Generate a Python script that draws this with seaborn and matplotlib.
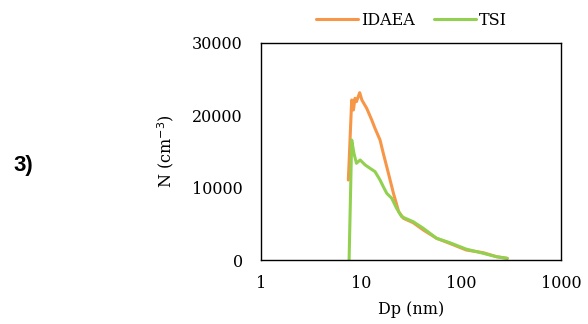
import numpy as np
import pandas as pd
import matplotlib
matplotlib.use("Agg")
import matplotlib.pyplot as plt
import seaborn as sns

# IDAEA series (Dp in nm, N in cm^-3)
idaea_dp = [7.47, 8.07, 8.4, 8.7, 9.0, 9.7, 10.2, 11.4, 12.8, 13.8, 15.5, 16.7,
            18.8, 21.1, 23.8, 26.6, 33.2, 42, 57, 77, 113, 167, 226, 290]
idaea_n = [11060, 22120, 20740, 22350, 21890, 23130, 22120, 20970, 19360, 18200,
           16590, 14750, 11980, 9220, 6680, 5760, 5160, 4150, 3000, 2300, 1380,
           1010, 460, 230]

# TSI series
tsi_dp = [7.6, 8.07, 8.5, 9.0, 9.8, 11.0, 12.3, 13.8, 15.5, 16.7, 18.1, 20.3,
          22.7, 25.5, 33.2, 42, 57, 77, 113, 144, 226, 290]
tsi_n = [0, 16590, 14750, 13370, 13830, 13140, 12680, 12220, 11060, 10140, 9220,
         8530, 7150, 5990, 5300, 4380, 3000, 2400, 1500, 1150, 460, 230]

x_ticks = [1, 10, 100, 1000]
x_tick_labels = ["1", "10", "100", "1000"]
y_ticks = [0, 10000, 20000, 30000]

sns.set_theme(style="white")
plt.rcParams['font.family'] = ['DejaVu Serif']
plt.rcParams['text.color'] = 'black'

df = pd.concat([
    pd.DataFrame({"Dp": idaea_dp, "N": idaea_n, "series": "IDAEA"}),
    pd.DataFrame({"Dp": tsi_dp, "N": tsi_n, "series": "TSI"}),
], ignore_index=True)

fig = plt.figure(figsize=(5.88, 3.24), dpi=100)
ax = fig.add_axes([0.4439, 0.1975, 0.5102, 0.6698])

sns.lineplot(data=df, x="Dp", y="N", hue="series", sort=False, estimator=None,
             palette={"IDAEA": "#F79646", "TSI": "#92D050"}, linewidth=2.2,
             ax=ax, legend=True)

ax.set_xscale("log")
ax.set_xlim(1, 1000)
ax.set_ylim(0, 30000)
ax.set_xticks(x_ticks)
ax.set_xticklabels(x_tick_labels)
ax.xaxis.set_minor_locator(matplotlib.ticker.NullLocator())
ax.set_yticks(y_ticks)
ax.set_yticklabels([str(v) for v in y_ticks])
ax.tick_params(axis="both", length=0, labelsize=11.5, colors="black")
ax.tick_params(axis="y", pad=13)
ax.tick_params(axis="x", pad=11)
for s in ax.spines.values():
    s.set_visible(True)
    s.set_color("black")
    s.set_linewidth(1.0)

ax.set_xlabel("Dp (nm)", fontsize=11.5, color="black", labelpad=6)
ax.set_ylabel("N (cm$^{-3}$)", fontsize=11.5, color="black", labelpad=12)

handles, labels = ax.get_legend_handles_labels()
ax.legend(handles, labels, loc="center", bbox_to_anchor=(0.70, 0.938),
          bbox_transform=fig.transFigure, ncol=2, frameon=False, fontsize=11.5,
          handlelength=2.6, handletextpad=0.2, columnspacing=1.2,
          labelcolor="black")

fig.text(0.039, 0.49, "3)", fontsize=16, fontweight="bold", color="black",
         family="Liberation Sans", ha="center", va="center")

fig.savefig("out.png", dpi=100)
